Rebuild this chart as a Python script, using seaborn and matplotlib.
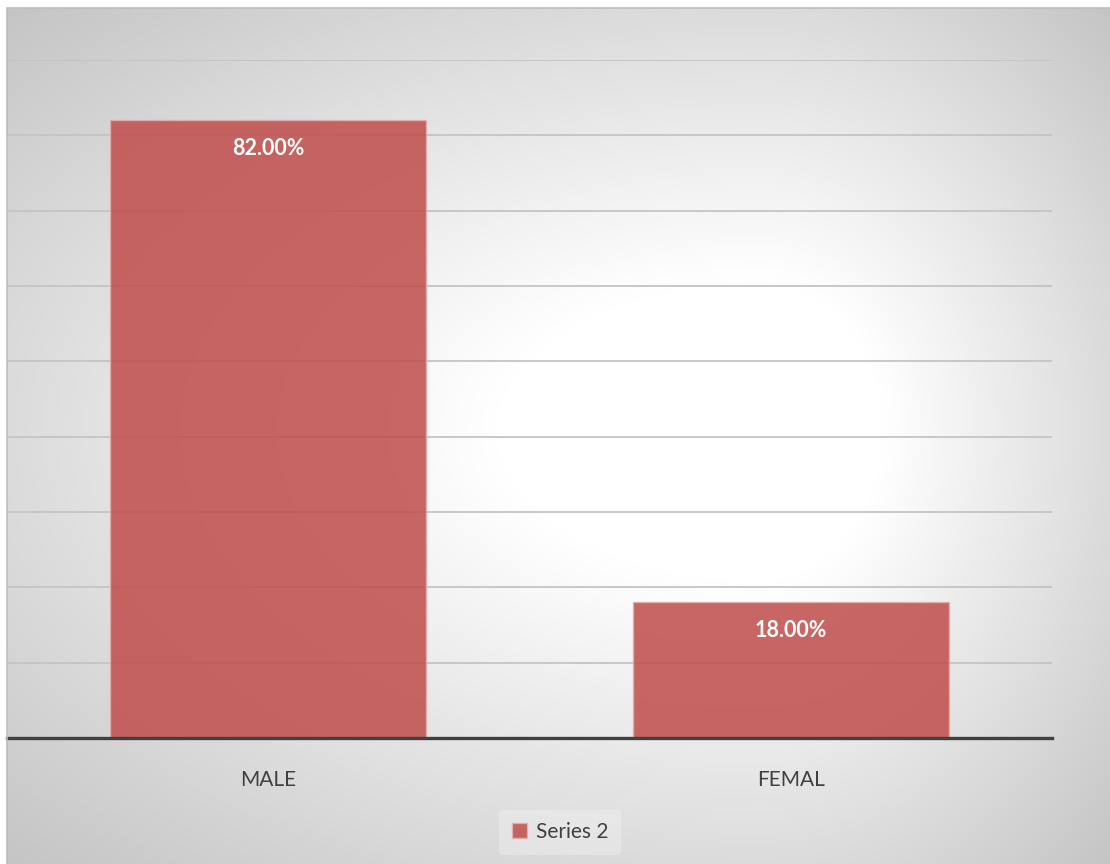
import numpy as np
import pandas as pd
import matplotlib
matplotlib.use("Agg")
import matplotlib.pyplot as plt
import seaborn as sns

# ---- data ----
categories = ["MALE", "FEMAL"]
values = [0.82, 0.18]
series_name = "Series 2"
value_labels = ["82.00%", "18.00%"]

sns.set_theme(style="white")
plt.rcParams['font.family'] = ['Lato', 'DejaVu Sans']

W, H = 1110, 864
fig = plt.figure(figsize=(W / 100, H / 100), dpi=100, facecolor="white")

# ---- gradient background (chart area) ----
bx0, by_top = 7, 8
bg = fig.add_axes([bx0 / W, 0, 1 - bx0 / W, (H - by_top) / H])
bg.set_zorder(0)
xs = np.arange(bx0, W) + 0.5
ys = np.arange(by_top, H) + 0.5
X, Y = np.meshgrid(xs, ys)
cx, cy = 760, 430
sx = np.where(X < cx, cx - bx0, W - cx)
sy = np.where(Y < cy, cy - by_top, H - cy)
d = np.sqrt(((X - cx) / sx) ** 2 + ((Y - cy) / sy) ** 2)
val = 1 - 0.215 * np.clip(d - 0.35, 0, None)
val = np.clip(val, 0, 1)
bg.imshow(np.dstack([val, val, val]), aspect="auto", interpolation="bilinear")
bg.set_axis_off()
# thin border lines top & left
fig.add_artist(plt.Line2D([bx0 / W, 1], [(H - by_top) / H] * 2, color="#bdbdbd", lw=1.2))
fig.add_artist(plt.Line2D([bx0 / W] * 2, [0, (H - by_top) / H], color="#bdbdbd", lw=1.2))

# ---- main axes ----
left, right, top, bottom = 7, 1052, 60, 738
ax = fig.add_axes([left / W, (H - bottom) / H, (right - left) / W, (bottom - top) / H])
ax.set_zorder(1)
ax.set_facecolor("none")

df = pd.DataFrame({"gender": categories, "value": values, "series": [series_name] * len(categories)})
sns.barplot(data=df, x="gender", y="value", hue="series", palette=["#C0504D"],
            saturation=1, width=0.605, dodge=False, alpha=0.87,
            edgecolor="#e2b0ae", linewidth=1.0, ax=ax, zorder=3)

ax.set_ylim(0, 0.9)
ax.set_yticks(np.arange(0.1, 0.91, 0.1))
ax.yaxis.grid(True, color="#c4c4c4", lw=1.3, zorder=0)
ax.set_axisbelow(True)
ax.tick_params(axis="y", left=False, labelleft=False)
ax.tick_params(axis="x", bottom=False, pad=17, labelsize=15, labelcolor="#404040")
ax.set_xlabel("")
ax.set_ylabel("")
for s in ["left", "right", "top"]:
    ax.spines[s].set_visible(False)
ax.spines["bottom"].set_color("#404040")
ax.spines["bottom"].set_linewidth(2.4)
ax.spines["bottom"].set_zorder(5)

for i, (v, lab) in enumerate(zip(values, value_labels)):
    ax.annotate(lab, (i, v), xytext=(0, -20), textcoords="offset points",
                ha="center", va="center", color="white", fontsize=15.5, fontweight="bold", zorder=6)

handles, labels = ax.get_legend_handles_labels()
if ax.get_legend() is not None:
    ax.get_legend().remove()
leg = fig.legend(handles, labels, loc="center", bbox_to_anchor=(560 / W, 1 - 832 / H),
                 frameon=True, fontsize=15, handlelength=0.75, handleheight=0.75,
                 handletextpad=0.4, borderpad=0.6, labelcolor="#404040")
leg.get_frame().set_facecolor("white")
leg.get_frame().set_alpha(0.25)
leg.get_frame().set_edgecolor("none")

fig.savefig("out.png", dpi=100, facecolor="white")
